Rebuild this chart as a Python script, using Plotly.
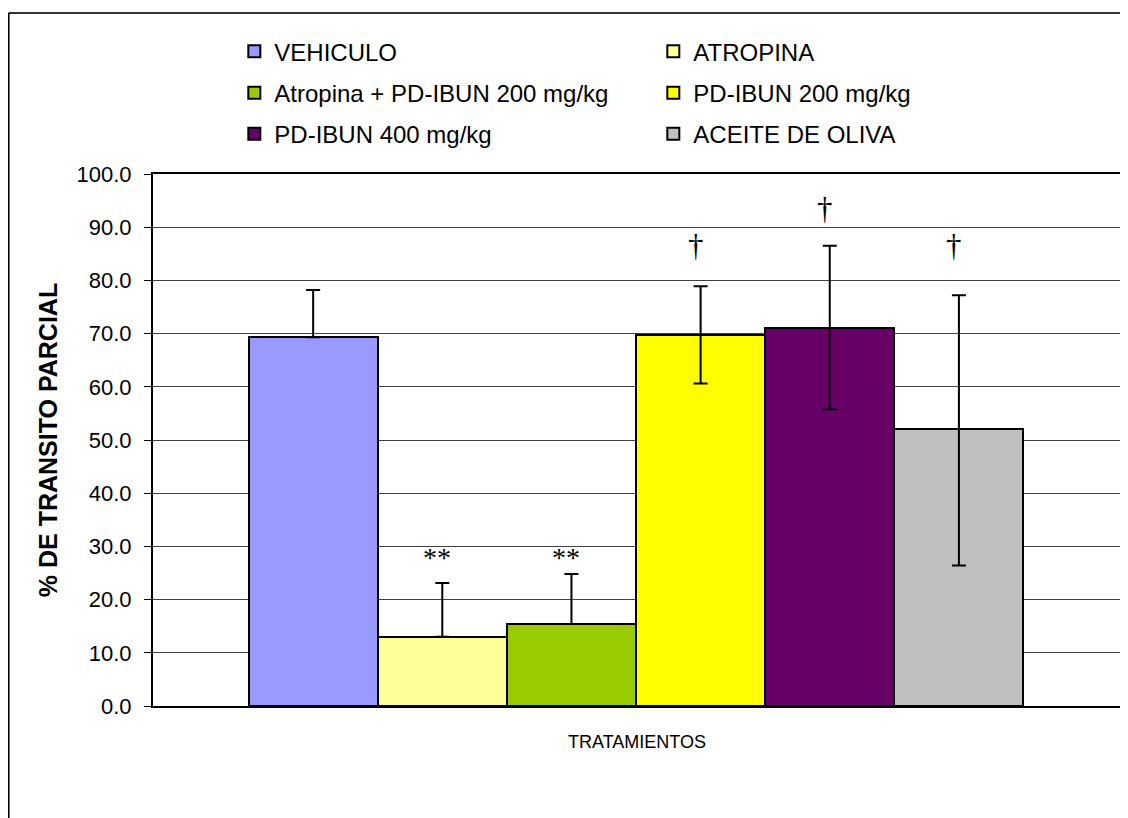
import plotly.graph_objects as go

# ---------------- data ----------------
treatments = ["VEHICULO", "ATROPINA", "Atropina + PD-IBUN 200 mg/kg",
              "PD-IBUN 200 mg/kg", "PD-IBUN 400 mg/kg", "ACEITE DE OLIVA"]
transit_mean = [69.3, 13.0, 15.4, 69.7, 71.0, 52.0]
transit_sd_plus = [8.9, 10.1, 9.4, 9.2, 15.5, 25.2]
transit_sd_minus = [0.0, 0.0, 0.0, 9.1, 15.2, 25.6]
sig_labels = ["", "**", "**", "\u2020", "\u2020", "\u2020"]
y_ticks = [0, 10, 20, 30, 40, 50, 60, 70, 80, 90, 100]

# ---------------- style ----------------
colors = ["#9999FF", "#FFFF99", "#99CC00", "#FFFF00", "#660066", "#C0C0C0"]
legend_ids = ["legend", "legend", "legend2", "legend2", "legend3", "legend3"]
sig_y = [None, 28.0, 28.0, 86.6, 93.6, 86.6]
sig_size = [0, 28, 28, 31, 31, 31]
FONT = "Arial, 'Liberation Sans', sans-serif"
SERIF = "'Liberation Serif', 'Times New Roman', serif"

fig = go.Figure()
for name, m, sp, sm, c, lg in zip(treatments, transit_mean, transit_sd_plus,
                                  transit_sd_minus, colors, legend_ids):
    fig.add_trace(go.Bar(
        x=[name], y=[m], name=name, legend=lg,
        marker=dict(color=c, line=dict(color="black", width=2)),
        error_y=dict(type="data", symmetric=False, array=[sp], arrayminus=[sm],
                     color="black", thickness=2, width=7),
    ))

for name, lab, yy, sz in zip(treatments, sig_labels, sig_y, sig_size):
    if lab:
        fig.add_annotation(x=name, y=yy, text=lab, showarrow=False,
                           font=dict(family=SERIF, size=sz, color="black"),
                           xshift=-5)

legend_common = dict(orientation="h", xanchor="left", yanchor="middle",
                     x=0.084, entrywidth=374, entrywidthmode="pixels",
                     font=dict(family=FONT, size=24, color="black"),
                     bgcolor="rgba(0,0,0,0)", itemclick=False)
fig.update_layout(
    legend=dict(y=1.23, **legend_common),
    legend2=dict(y=1.152, **legend_common),
    legend3=dict(y=1.075, **legend_common),
)

# page has an 8px body margin, so the figure is drawn 8px right/down
fig.update_layout(
    width=1120, height=810,
    margin=dict(l=145, r=5, t=166, b=112),
    paper_bgcolor="white", plot_bgcolor="white",
    barmode="overlay", bargap=0,
    font=dict(family=FONT, color="black"),
    xaxis=dict(type="category", range=[-1.24, 6.255], showticklabels=False,
               ticks="", showgrid=False, showline=True, linecolor="black",
               linewidth=2, mirror=True, fixedrange=True,
               title=dict(text="TRATAMIENTOS", font=dict(size=18, family=FONT),
                          standoff=28)),
    yaxis=dict(range=[0, 100], tickvals=y_ticks,
               ticktext=[f"{v:.1f}" for v in y_ticks],
               ticks="outside", ticklen=7, tickwidth=1, tickcolor="black",
               ticklabelstandoff=8,
               showgrid=True, gridcolor="#404040", gridwidth=1,
               showline=True, linecolor="black", linewidth=2, mirror=True,
               tickfont=dict(size=22, family=FONT),
               zeroline=False,
               title=dict(text="<b>% DE TRANSITO PARCIAL</b>",
                          font=dict(size=25, family=FONT), standoff=12)),
    showlegend=True,
)

# outer chart border (clipped at right and bottom as in reference)
fig.add_shape(type="line", xref="paper", yref="paper",
              x0=-0.1492, x1=1.2, y0=1.3028, y1=1.3028,
              line=dict(color="#333333", width=2))
fig.add_shape(type="line", xref="paper", yref="paper",
              x0=-0.1492, x1=-0.1492, y0=1.3028, y1=-0.3,
              line=dict(color="black", width=2))

fig.write_html("out.html")
